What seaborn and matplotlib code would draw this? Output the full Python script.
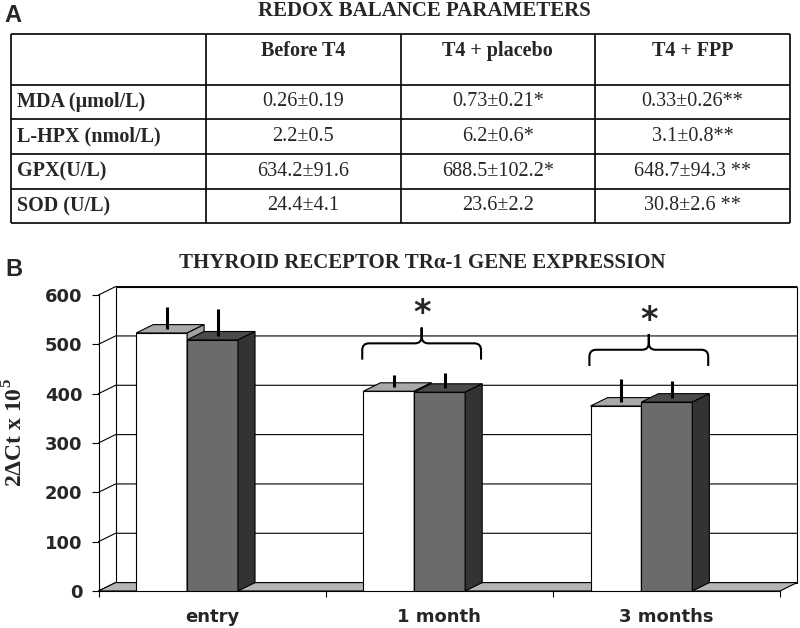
import numpy as np
import pandas as pd
import matplotlib.pyplot as plt
from matplotlib.path import Path
from matplotlib.patches import PathPatch, Polygon
import seaborn as sns

# -----------------------------
# Data
# -----------------------------
# panel A: redox table
table_title = "REDOX BALANCE PARAMETERS"
col_headers = ["Before T4", "T4 + placebo", "T4 + FPP"]
row_labels = ["MDA (μmol/L)", "L-HPX (nmol/L)", "GPX(U/L)", "SOD (U/L)"]
mda_row = ["0.26±0.19", "0.73±0.21*", "0.33±0.26**"]
lhpx_row = ["2.2±0.5", "6.2±0.6*", "3.1±0.8**"]
gpx_row = ["634.2±91.6", "688.5±102.2*", "648.7±94.3 **"]
sod_row = ["24.4±4.1", "23.6±2.2", "30.8±2.6 **"]

# panel B: TRa-1 expression
chart_title = "THYROID RECEPTOR TRα-1 GENE EXPRESSION"
timepoints = ["entry", "1 month", "3 months"]
series_names = ["series 1", "series 2"]
white_vals = [523, 405, 375]
grey_vals = [509, 403, 383]
white_err = [44, 25, 46]
grey_err = [55, 31, 34]
significant = [False, True, True]

# -----------------------------
# Style
# -----------------------------
sns.set_theme(style="white")
plt.rcParams["font.family"] = ["Liberation Serif", "DejaVu Serif"]
plt.rcParams["mathtext.fontset"] = "custom"
plt.rcParams["mathtext.rm"] = "Liberation Serif"
plt.rcParams["mathtext.bf"] = "Liberation Serif:bold"

W, H = 800, 628
fig = plt.figure(figsize=(W / 100, H / 100), dpi=100)
fig.patch.set_facecolor("white")

def fx(px):
    return px / W

def fy(py):
    return 1 - py / H

# -----------------------------
# Panel A - table
# -----------------------------
fig.text(fx(13), fy(16), "A", ha="center", va="center", fontsize=17,
         fontweight="bold", family="Liberation Sans")
fig.text(fx(424), fy(16.5), table_title, ha="center", va="baseline",
         fontsize=15, fontweight="bold")

tab = fig.add_axes([fx(11), fy(223), fx(790) - fx(11), (223 - 34) / H])
tab.set_xlim(0, 4)
tab.set_ylim(189, 0)
tab.axis("off")
row_edges = [0, 51, 85, 120, 155, 189]
tab.hlines(row_edges, 0, 4, color="black", lw=1.2, clip_on=False)
tab.vlines([0, 1, 2, 3, 4], 0, 189, color="black", lw=1.2, clip_on=False)

for j, head in enumerate(col_headers):
    tab.text(j + 1.5, 17, head, ha="center", va="center",
             fontsize=14.5, fontweight="bold")

rows = [mda_row, lhpx_row, gpx_row, sod_row]
for i, (lab, vals) in enumerate(zip(row_labels, rows)):
    yc = (row_edges[i + 1] + row_edges[i + 2]) / 2
    tab.text(0.03, yc, lab, ha="left", va="center", fontsize=14.5,
             fontweight="bold")
    for j, v in enumerate(vals):
        tab.text(j + 1.5, yc, v, ha="center", va="center", fontsize=14.5)

# -----------------------------
# Panel B - pseudo 3D bar chart
# -----------------------------
fig.text(fx(14), fy(270), "B", ha="center", va="center", fontsize=17,
         fontweight="bold", family="Liberation Sans")
fig.text(fx(422), fy(263), chart_title, ha="center", va="center",
         fontsize=15, fontweight="bold")

ax = fig.add_axes([fx(98.5), fy(591), fx(780) - fx(98.5), (591 - 295) / H])

df = pd.DataFrame({
    "time": timepoints * 2,
    "series": [series_names[0]] * 3 + [series_names[1]] * 3,
    "value": white_vals + grey_vals,
})
front_cols = ["#ffffff", "#6b6b6b"]
top_cols = ["#a9a9a9", "#4b4b4b"]
side_cols = ["#a0a0a0", "#333333"]

sns.barplot(data=df, x="time", y="value", hue="series", palette=front_cols,
            saturation=1, edgecolor="black", linewidth=0.8, width=0.448,
            errorbar=None, legend=False, ax=ax)
bar_list = list(ax.patches)
white_bars = sorted(bar_list[:3], key=lambda p: p.get_x())
grey_bars = sorted(bar_list[3:6], key=lambda p: p.get_x())

shift = 0.11          # bars sit a bit left of the category centre
x0, x1 = -0.5 + shift, 2.5 + shift
dx, dy = 0.075, 17    # depth of the fake 3D box (data units)
ax.set_xlim(x0, x1)
ax.set_ylim(0, 600)
yt = np.arange(0, 601, 100)

# back wall, left wall gridlines, floor
ax.add_patch(Polygon([(x0 + dx, dy), (x1 + dx, dy), (x1 + dx, 600 + dy),
                      (x0 + dx, 600 + dy)], closed=True, fc="white",
                     ec="black", lw=0.8, clip_on=False, zorder=0.5))
for t in yt:
    ax.plot([x0, x0 + dx, x1 + dx], [t, t + dy, t + dy], color="black",
            lw=0.8, clip_on=False, zorder=0.8)
ax.add_patch(Polygon([(x0, 0), (x1, 0), (x1 + dx, dy), (x0 + dx, dy)],
                     closed=True, fc="#b5b5b5", ec="black", lw=0.8,
                     clip_on=False, zorder=1))

# 3D faces and error bars
errs = [white_err, grey_err]
for i in range(3):
    for k, p in enumerate([white_bars[i], grey_bars[i]]):
        z = 3 + i * 2 + k
        x, w, h = p.get_x(), p.get_width(), p.get_height()
        p.set_zorder(z)
        ax.add_patch(Polygon([(x, h), (x + w, h), (x + w + dx, h + dy),
                              (x + dx, h + dy)], closed=True, fc=top_cols[k],
                             ec="black", lw=0.8, zorder=z))
        ax.add_patch(Polygon([(x + w, 0), (x + w + dx, dy),
                              (x + w + dx, h + dy), (x + w, h)], closed=True,
                             fc=side_cols[k], ec="black", lw=0.8, zorder=z))
        e = errs[k][i]
        ax.vlines(x + w / 2 + dx * 0.3, h + dy / 2, h + dy / 2 + e,
                  color="black", lw=2.2, zorder=20)

# significance braces
for i in range(3):
    if not significant[i]:
        continue
    pw, pg = white_bars[i], grey_bars[i]
    top = max(white_vals[i] + white_err[i], grey_vals[i] + grey_err[i])
    base, mid, tip = top + 35, top + 68, top + 100
    xl = pw.get_x() - 0.005
    xr = pg.get_x() + pg.get_width() + dx - 0.005
    xc = (xl + xr) / 2
    rx, ry = 0.03, 14
    verts = [(xl, base), (xl, mid - ry), (xl, mid), (xl + rx, mid),
             (xc - rx, mid), (xc, mid), (xc, mid + ry), (xc, tip),
             (xc, tip), (xc, mid + ry), (xc, mid), (xc + rx, mid),
             (xr - rx, mid), (xr, mid), (xr, mid - ry), (xr, base)]
    codes = [Path.MOVETO, Path.LINETO, Path.CURVE3, Path.CURVE3,
             Path.LINETO, Path.CURVE3, Path.CURVE3, Path.LINETO,
             Path.MOVETO, Path.LINETO, Path.CURVE3, Path.CURVE3,
             Path.LINETO, Path.CURVE3, Path.CURVE3, Path.LINETO]
    ax.add_patch(PathPatch(Path(verts, codes), fc="none", ec="black",
                           lw=1.5, clip_on=False, zorder=21))
    ax.text(xc, tip + 28, "*", ha="center", va="center", fontsize=24,
            fontweight="bold", family="DejaVu Sans", zorder=21)

# axes, ticks, labels
for s in ["top", "right"]:
    ax.spines[s].set_visible(False)
for s in ["left", "bottom"]:
    ax.spines[s].set_color("black")
    ax.spines[s].set_linewidth(0.8)
ax.set_facecolor("none")
ax.set_yticks(yt)
ax.set_yticklabels([str(t) for t in yt], family="DejaVu Sans",
                   fontweight="bold", fontsize=13)
ax.set_xticks([i + shift for i in range(3)])
ax.set_xticklabels(timepoints, family="DejaVu Sans", fontweight="bold",
                   fontsize=13)
ax.set_xticks([x0 + i for i in range(4)], minor=True)
ax.tick_params(axis="y", which="major", length=4.7, width=0.8, pad=7,
               color="black", left=True)
ax.tick_params(axis="x", which="major", length=0, pad=12)
ax.tick_params(axis="x", which="minor", length=4.5, width=0.8,
               color="black", bottom=True)
ax.set_xlabel("")
ax.set_ylabel("")
ax.grid(False)

fig.text(fx(15), fy(433), "2ΔCt x 10$^{\\mathbf{5}}$", rotation=90,
         ha="center", va="center", fontsize=17, fontweight="bold")

fig.savefig("out.png", dpi=100, facecolor="white")
